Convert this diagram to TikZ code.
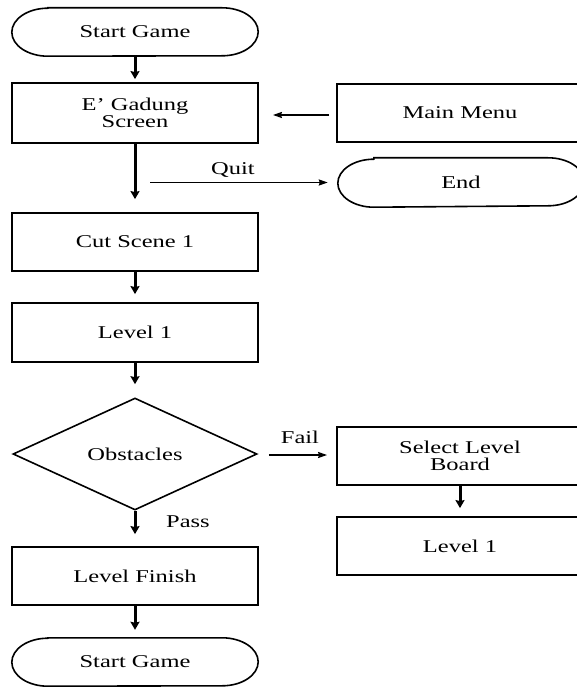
\documentclass[tikz,border=0pt]{standalone}
\usepackage{fontspec}
\setmainfont[FakeStretch=1.36]{Liberation Serif}
\usetikzlibrary{arrows.meta,shapes.geometric}
\begin{document}
\begin{tikzpicture}[x=1pt,y=1pt,
  every node/.style={font=\fontsize{18}{17}\selectfont},
  box/.style={draw,line width=1.8pt,rectangle,minimum width=246pt,minimum height=58pt,inner sep=0pt,align=center},
  term/.style={rectangle,minimum width=246pt,minimum height=48pt,inner sep=0pt},
  dec/.style={draw,line width=1.6pt,diamond,minimum width=244pt,minimum height=112pt,inner sep=0pt,aspect=2.18},
  varr/.style={line width=3pt,-{Stealth[length=8pt,width=9pt,inset=1pt]}},
  harr/.style={line width=1.8pt,-{Stealth[length=9pt,width=6pt,inset=1pt]}},
  lbl/.style={inner sep=0pt}]
\useasboundingbox (0,0) rectangle (577,-687);
\clip (0,0) rectangle (577,-687);
\fill[white] (0,0) rectangle (577,-687);

\newcommand{\termshape}[1]{%
  \draw[line width=1.6pt] ([xshift=36pt]#1.north west) -- ([xshift=-36pt]#1.north east)
    arc[start angle=90,end angle=-90,x radius=36pt,y radius=24pt]
    -- ([xshift=36pt]#1.south west)
    arc[start angle=270,end angle=90,x radius=36pt,y radius=24pt] -- cycle;}

% nodes
\node[term] (start1) at (135,-32) {Start Game};
\node[box,minimum height=60pt] (egad) at (135,-113) {E’ Gadung\\Screen};
\node[box] (menu) at (460,-113) {Main Menu};
\node[term,minimum height=49pt] (endn) at (461,-182.5) {End};
\node[box] (cut) at (135,-242) {Cut Scene 1};
\node[box,minimum height=59pt] (lev1) at (135,-332.5) {Level 1};
\node[dec] (obs) at (135,-454) {};
\node at (obs.center) {Obstacles};
\node[box] (slb) at (460,-456) {Select Level\\Board};
\node[box] (lev1b) at (460,-546) {Level 1};
\node[box] (fin) at (135,-576) {Level Finish};
\node[term] (start2) at (135,-662) {Start Game};

\termshape{start1}
\termshape{endn}
\termshape{start2}

% connectors
\draw[varr,shorten >=3pt] (start1.south) -- (egad.north);
\draw[varr,shorten >=13pt] (egad.south) -- (cut.north);
\coordinate (q1) at (150,-182.5);
\draw[harr,shorten >=10pt] (q1) -- (endn.west);
\node[lbl] at (233,-170) {Quit};
\draw[harr,shorten <=7pt,shorten >=14pt] ([yshift=-2pt]menu.west) -- ([yshift=-2pt]egad.east);
\draw[varr,shorten >=8pt] (cut.south) -- (lev1.north);
\draw[varr,shorten >=13pt] (lev1.south) -- (obs.north);
\draw[varr,shorten >=12pt] (obs.south) -- (fin.north);
\node[lbl] at (188,-522) {Pass};
\draw[harr,shorten <=11pt,shorten >=9pt] ([yshift=-1pt]obs.east) -- ([yshift=-1pt]obs.east -| slb.west);
\node[lbl] at (300,-437) {Fail};
\draw[varr,shorten >=8pt] (slb.south) -- (lev1b.north);
\draw[varr,shorten >=8pt] (fin.south) -- (start2.north);
\end{tikzpicture}
\end{document}
